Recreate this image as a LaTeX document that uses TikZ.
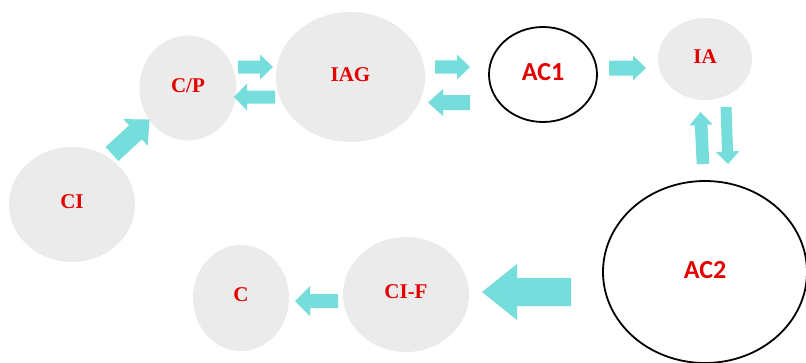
\documentclass[tikz,border=0pt]{standalone}
\usepackage{fontspec}
\setmainfont{Liberation Serif}
\newfontfamily\carlitofont{Carlito}
\usetikzlibrary{shapes.geometric,calc}
\definecolor{ellgray}{RGB}{235,235,235}
\definecolor{arrcyan}{RGB}{118,221,221}
\definecolor{labred}{RGB}{228,0,0}
\tikzset{
  grayell/.style={ellipse, fill=ellgray, inner sep=0pt, text=labred, font=\fontsize{21}{24}\selectfont\bfseries},
  blackell/.style={ellipse, draw=black, line width=1.8pt, inner sep=0pt, text=labred, font=\fontsize{26}{30}\selectfont\carlitofont\bfseries},
  arrowfill/.style={fill=arrcyan}
}
% #1 start, #2 end (tip), #3 half shaft, #4 half head, #5 head length
\newcommand\blockarrow[5]{%
  \coordinate (ba) at ($(#2)!#5!(#1)$);
  \fill[arrowfill] ($(#1)!#3!90:(#2)$) -- ($(ba)!#3!90:(#2)$) -- ($(ba)!#4!90:(#2)$) -- (#2)
    -- ($(ba)!#4!-90:(#2)$) -- ($(ba)!#3!-90:(#2)$) -- ($(#1)!#3!-90:(#2)$) -- cycle;
}
\begin{document}
\begin{tikzpicture}[x=1pt,y=-1pt]
\useasboundingbox (0,0) rectangle (806,362);
\clip (0,0) rectangle (806,362);
\fill[white] (0,0) rectangle (806,362);
% ellipses
\node[grayell, minimum width=126pt, minimum height=115pt] (ci) at (72,204.5) {\raisebox{5pt}{CI}};
\node[grayell, minimum width=97pt, minimum height=105pt] (cp) at (188,88) {\raisebox{5pt}{C/P}};
\node[grayell, minimum width=149pt, minimum height=130pt] (iag) at (350.5,77) {\raisebox{4pt}{IAG}};
\node[blackell, minimum width=108pt, minimum height=95pt] (ac1) at (543,74.5) {\raisebox{6pt}{AC1}};
\node[grayell, minimum width=94pt, minimum height=82pt] (ia) at (705,59) {\raisebox{4pt}{IA}};
\node[blackell, minimum width=204pt, minimum height=182pt] (ac2) at (705,272) {\raisebox{4pt}{AC2}};
\node[grayell, minimum width=126pt, minimum height=115pt] (cif) at (406,294.5) {\raisebox{6pt}{CI-F}};
\node[grayell, minimum width=96pt, minimum height=106pt] (c) at (241,298) {\raisebox{6pt}{C}};
% arrow end points
\coordinate (a1s) at (112,154);  \coordinate (a1e) at (149.5,119.5);
\coordinate (a2s) at (238,67);   \coordinate (a2e) at (273,67);
\coordinate (a3s) at (275,97);   \coordinate (a3e) at (234,97);
\coordinate (a4s) at (435,67);   \coordinate (a4e) at (470,67);
\coordinate (a5s) at (470,102.5);\coordinate (a5e) at (428,102.5);
\coordinate (a6s) at (609,68);   \coordinate (a6e) at (646,68);
\coordinate (a7s) at (703,164);  \coordinate (a7e) at (700.5,112);
\coordinate (a8s) at (726,107);  \coordinate (a8e) at (728,164);
\coordinate (a9s) at (571,292);  \coordinate (a9e) at (482,292);
\coordinate (a10s) at (338,301); \coordinate (a10e) at (295,301);
% block arrows
\blockarrow{a1s}{a1e}{9.5pt}{18pt}{19pt}
\blockarrow{a2s}{a2e}{6.5pt}{12.5pt}{13pt}
\blockarrow{a3s}{a3e}{6.5pt}{13.5pt}{13pt}
\blockarrow{a4s}{a4e}{6.7pt}{12.5pt}{13pt}
\blockarrow{a5s}{a5e}{7.5pt}{13.5pt}{15pt}
\blockarrow{a6s}{a6e}{7.5pt}{12.5pt}{13pt}
\blockarrow{a7s}{a7e}{6.3pt}{11.7pt}{13pt}
\blockarrow{a8s}{a8e}{5.5pt}{11.7pt}{12.5pt}
\blockarrow{a9s}{a9e}{14pt}{28pt}{35pt}
\blockarrow{a10s}{a10e}{7pt}{15pt}{15pt}
\end{tikzpicture}
\end{document}
